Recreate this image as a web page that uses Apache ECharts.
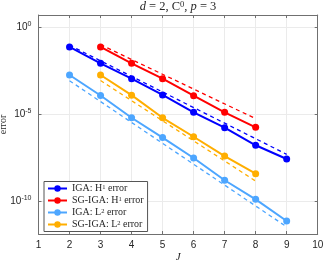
<!DOCTYPE html>
<html>
<head>
<meta charset="utf-8">
<script src="https://cdn.jsdelivr.net/npm/echarts@6/dist/echarts.min.js"></script>
<style>
html,body{margin:0;padding:0;background:#fff;}
#c{width:324px;height:262px;}
</style>
</head>
<body>
<div id="c"></div>
<script>
// Data
const J_IGA = [2, 3, 4, 5, 6, 7, 8, 9];
const J_SG = [3, 4, 5, 6, 7, 8];
const igaH1 = [7.41e-2, 8.51e-3, 1.12e-3, 1.29e-4, 1.29e-5, 1.70e-6, 1.66e-7, 2.69e-8];
const sgH1 = [7.41e-2, 8.51e-3, 1.12e-3, 1.17e-4, 1.29e-5, 1.78e-6];
const igaL2 = [1.82e-3, 1.20e-4, 6.31e-6, 4.57e-7, 3.09e-8, 1.62e-9, 1.29e-10, 7.41e-12];
const sgL2 = [1.82e-3, 1.26e-4, 6.31e-6, 5.13e-7, 3.98e-8, 3.89e-9];
// Dashed reference rate lines (end points)
const refJ_IGA = [2, 9];
const refJ_SG = [3, 8];
const refIgaH1 = [9.33e-2, 5.01e-8];
const refSgH1 = [1.0e-1, 5.62e-6];
const refIgaL2 = [8.51e-4, 3.39e-12];
const refSgL2 = [8.71e-4, 1.45e-9];
const xTicks = [1, 2, 3, 4, 5, 6, 7, 8, 9, 10];
const yTicks = [1e-10, 1e-5, 1];
const names = ['IGA: H1 error', 'SG-IGA: H1 error', 'IGA: L2 error', 'SG-IGA: L2 error'];
const legendRich = {
  'IGA: H1 error': '{t|IGA: H}{s|1}{t| error}',
  'SG-IGA: H1 error': '{t|SG-IGA: H}{s|1}{t| error}',
  'IGA: L2 error': '{t|IGA: L}{s|2}{t| error}',
  'SG-IGA: L2 error': '{t|SG-IGA: L}{s|2}{t| error}'
};

const colors = ['#0000ff', '#ff0000', '#4da6ff', '#ffae00'];
const YMIN = Math.pow(10, -11.88), YMAX = Math.pow(10, 0.707);

function pairs(xs, ys) { return xs.map((x, i) => [x, ys[i]]); }

const serif = 'Liberation Serif';
const sans = 'Liberation Sans';
const axisCol = '#707070';

function solid(name, xs, ys, color) {
  return {
    name: name, type: 'line', data: pairs(xs, ys), z: 3,
    symbol: 'circle', symbolSize: 7,
    lineStyle: { color: color, width: 2 },
    itemStyle: { color: color },
    emphasis: { disabled: true }, animation: false
  };
}
function dashed(xs, ys, color) {
  return {
    name: '_ref', type: 'line', data: pairs(xs, ys), z: 2,
    showSymbol: false, symbol: 'none',
    lineStyle: { color: color, width: 1.3, type: [4, 3.5] },
    emphasis: { disabled: true }, animation: false
  };
}

const chart = echarts.init(document.getElementById('c'), null, { renderer: 'canvas' });
chart.setOption({
  animation: false,
  backgroundColor: '#fff',
  title: {
    text: '{i|d} = 2, C{s|0}, {i|p} = 3',
    left: 178, top: 0, textAlign: 'center', padding: 0,
    textStyle: {
      fontFamily: serif, fontSize: 12.5, fontWeight: 'normal', color: '#262626',
      rich: {
        i: { fontFamily: serif, fontSize: 12.5, fontStyle: 'italic', color: '#262626', lineHeight: 14 },
        s: { fontFamily: serif, fontSize: 8.5, color: '#262626', verticalAlign: 'top', lineHeight: 8 }
      }
    }
  },
  grid: { left: 38.5, right: 6.3, top: 15, bottom: 28, containLabel: false, outerBoundsMode: 'none' },
  legend: {
    data: names,
    orient: 'vertical',
    left: 44, top: 181.5,
    padding: [2, 4, 2, 3],
    itemWidth: 19, itemHeight: 8, itemGap: 2,
    backgroundColor: '#fff',
    borderColor: '#555', borderWidth: 1,
    formatter: function (n) { return legendRich[n]; },
    textStyle: {
      fontFamily: serif, fontSize: 10, color: '#262626',
      rich: {
        t: { fontFamily: serif, fontSize: 10, color: '#262626', lineHeight: 10 },
        s: { fontFamily: serif, fontSize: 6.5, color: '#262626', verticalAlign: 'top', lineHeight: 6 }
      }
    }
  },
  xAxis: [{
    type: 'value', min: 1, max: 10, interval: 1,
    name: 'J', nameLocation: 'middle', nameGap: 18, nameMoveOverlap: false,
    nameTextStyle: { fontFamily: serif, fontStyle: 'italic', fontSize: 11, color: '#262626' },
    axisLine: { show: true, lineStyle: { color: axisCol, width: 1 } },
    axisTick: { show: true, inside: true, length: 3, lineStyle: { color: axisCol } },
    axisLabel: { fontFamily: sans, fontSize: 10, color: '#262626', margin: 6,
      customValues: xTicks },
    splitLine: { show: true, lineStyle: { color: '#ebebeb', width: 1 } }
  }, {
    type: 'value', min: 1, max: 10, interval: 1, position: 'top',
    axisLine: { show: true, lineStyle: { color: axisCol, width: 1 } },
    axisTick: { show: true, inside: true, length: 3, lineStyle: { color: axisCol } },
    axisLabel: { show: false }, splitLine: { show: false }
  }],
  yAxis: [{
    type: 'log', min: YMIN, max: YMAX, logBase: 10,
    name: 'error', nameLocation: 'middle', nameGap: 30, nameMoveOverlap: false,
    nameTextStyle: { fontFamily: serif, fontSize: 10, color: '#262626' },
    axisLine: { show: true, lineStyle: { color: axisCol, width: 1 } },
    axisTick: { show: true, inside: true, length: 3, lineStyle: { color: axisCol }, customValues: yTicks },
    minorTick: { show: false },
    axisLabel: {
      customValues: yTicks, margin: 7,
      formatter: function (v) {
        const e = Math.round(Math.log10(v));
        return '{b|10}{s|' + e + '}';
      },
      rich: {
        b: { fontFamily: sans, fontSize: 10, color: '#262626', lineHeight: 14 },
        s: { fontFamily: sans, fontSize: 7, color: '#262626', verticalAlign: 'top', lineHeight: 7 }
      }
    },
    splitLine: { show: true, lineStyle: { color: '#ebebeb', width: 1 } }
  }, {
    type: 'log', min: YMIN, max: YMAX, logBase: 10, position: 'right',
    axisLine: { show: true, lineStyle: { color: axisCol, width: 1 } },
    axisTick: { show: true, inside: true, length: 3, lineStyle: { color: axisCol }, customValues: yTicks },
    axisLabel: { show: false, customValues: yTicks }, splitLine: { show: false }
  }],
  series: [
    dashed(refJ_IGA, refIgaH1, colors[0]),
    dashed(refJ_SG, refSgH1, colors[1]),
    dashed(refJ_IGA, refIgaL2, colors[2]),
    dashed(refJ_SG, refSgL2, colors[3]),
    solid(names[0], J_IGA, igaH1, colors[0]),
    solid(names[1], J_SG, sgH1, colors[1]),
    solid(names[2], J_IGA, igaL2, colors[2]),
    solid(names[3], J_SG, sgL2, colors[3])
  ]
});
</script>
</body>
</html>
